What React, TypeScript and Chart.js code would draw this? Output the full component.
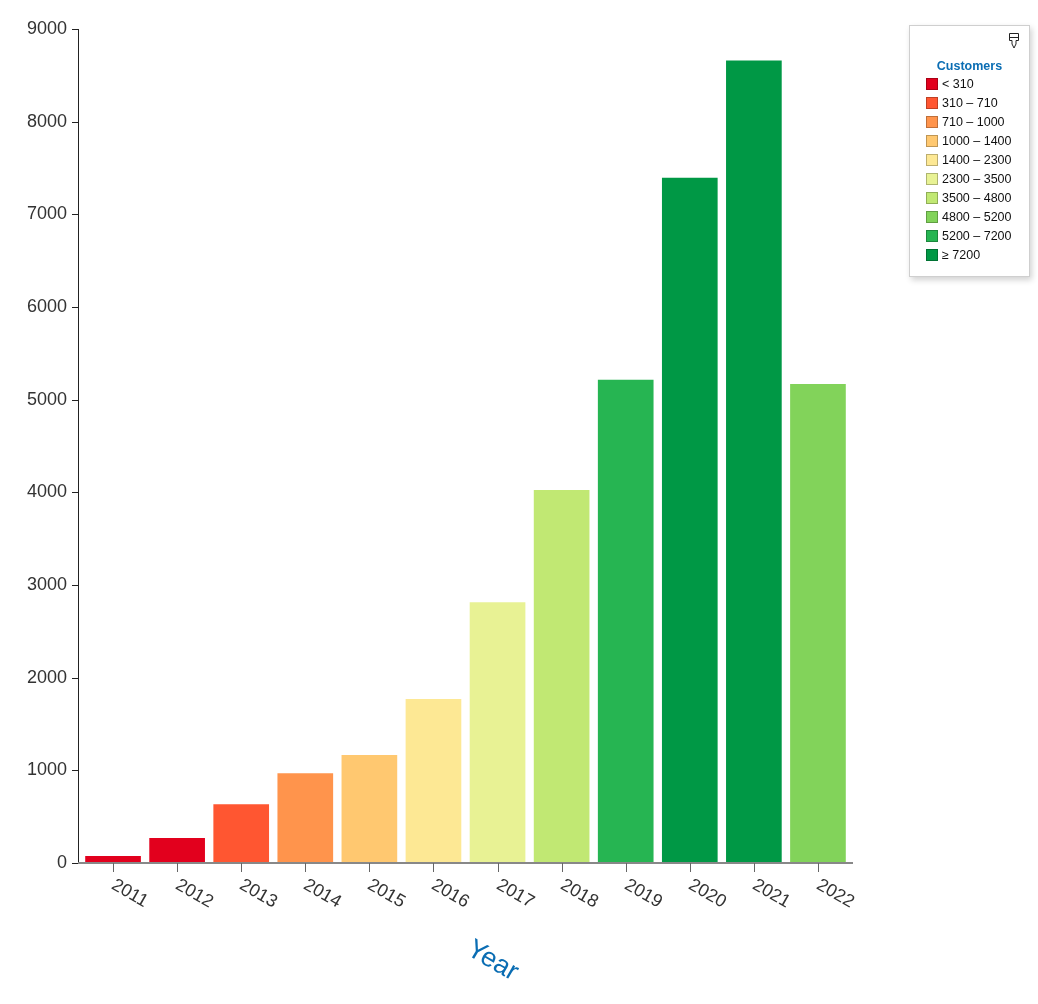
import React, { useEffect, useRef } from "react";
import { Chart, registerables } from "chart.js";

Chart.register(...registerables);

const years = ["2011", "2012", "2013", "2014", "2015", "2016", "2017", "2018", "2019", "2020", "2021", "2022"];
const customers = [85, 280, 645, 980, 1175, 1780, 2825, 4035, 5225, 7405, 8670, 5180];
const binLimits = [310, 710, 1000, 1400, 2300, 3500, 4800, 5200, 7200];
const binLabels = ["< 310", "310 – 710", "710 – 1000", "1000 – 1400", "1400 – 2300", "2300 – 3500", "3500 – 4800", "4800 – 5200", "5200 – 7200", "≥ 7200"];
const binColors = ["#e2001d", "#ff5631", "#ff944c", "#ffc870", "#fde894", "#e8f294", "#c1e873", "#82d35a", "#26b552", "#009845"];
const yTicks = [0, 1000, 2000, 3000, 4000, 5000, 6000, 7000, 8000, 9000];

function colorFor(v: number): string {
  let i = 0;
  while (i < binLimits.length && v >= binLimits[i]) i++;
  return binColors[i];
}

const FONT = "'Liberation Sans', Arial, Helvetica, sans-serif";

const axesPlugin = {
  id: "customAxes",
  afterDraw(chart: any) {
    const ctx = chart.ctx;
    const area = chart.chartArea;
    const xs = chart.scales.x;
    const ys = chart.scales.y;
    ctx.save();
    ctx.strokeStyle = "#222";
    ctx.lineWidth = 1;
    ctx.beginPath();
    ctx.moveTo(area.left - 2.5, area.top);
    ctx.lineTo(area.left - 2.5, area.bottom);
    ctx.stroke();
    yTicks.forEach((t) => {
      const y = Math.round(ys.getPixelForValue(t)) + 0.5;
      ctx.beginPath();
      ctx.moveTo(area.left - 9, y);
      ctx.lineTo(area.left - 2.5, y);
      ctx.stroke();
    });
    ctx.strokeStyle = "#888";
    ctx.lineWidth = 2;
    ctx.beginPath();
    ctx.moveTo(area.left - 3, area.bottom);
    ctx.lineTo(area.right + 3, area.bottom);
    ctx.stroke();
    ctx.lineWidth = 1;
    ctx.font = `18px ${FONT}`;
    ctx.fillStyle = "#333";
    ctx.textAlign = "left";
    ctx.textBaseline = "top";
    years.forEach((lab, i) => {
      const x = Math.round(xs.getPixelForValue(i)) + 0.5;
      ctx.strokeStyle = "#666";
      ctx.beginPath();
      ctx.moveTo(x, area.bottom);
      ctx.lineTo(x, area.bottom + 9);
      ctx.stroke();
      ctx.save();
      ctx.translate(x + 4, area.bottom + 13);
      ctx.rotate((30 * Math.PI) / 180);
      ctx.fillText(lab, 0, 0);
      ctx.restore();
    });
    ctx.save();
    ctx.translate((area.left + area.right) / 2 + 27, area.bottom + 98);
    ctx.rotate((30 * Math.PI) / 180);
    ctx.font = `27px ${FONT}`;
    ctx.fillStyle = "#0a6db3";
    ctx.textAlign = "center";
    ctx.textBaseline = "middle";
    ctx.fillText("Year", 0, 0);
    ctx.restore();
    ctx.restore();
  },
};

export default function App() {
  const ref = useRef<HTMLCanvasElement | null>(null);

  useEffect(() => {
    const prevMargin = document.body.style.margin;
    document.body.style.margin = "0";
    const canvas = ref.current!;
    const chart = new Chart(canvas, {
      type: "bar",
      data: {
        labels: years,
        datasets: [
          {
            label: "Customers",
            data: customers,
            backgroundColor: customers.map(colorFor),
            borderColor: "rgba(255,255,255,0.3)",
            borderWidth: 1,
            barPercentage: 0.9,
            categoryPercentage: 1,
          },
        ],
      },
      options: {
        responsive: false,
        animation: false,
        layout: { padding: { left: 0, top: 29, right: 188, bottom: 0 } },
        plugins: { legend: { display: false }, tooltip: { enabled: false } },
        scales: {
          x: {
            grid: { display: false, drawTicks: false },
            border: { display: false },
            ticks: { display: false },
            afterFit: (s: any) => {
              s.height = 141;
            },
          },
          y: {
            min: 0,
            max: 9000,
            grid: { display: false, drawTicks: false },
            border: { display: false },
            ticks: {
              stepSize: 1000,
              padding: 14,
              color: "#333",
              font: { family: FONT, size: 18 },
              callback: (v: any) => String(v),
            },
            afterFit: (s: any) => {
              s.width = 81;
            },
          },
        },
      },
      plugins: [axesPlugin],
    });
    return () => {
      chart.destroy();
      document.body.style.margin = prevMargin;
    };
  }, []);

  return (
    <div style={{ position: "absolute", left: 0, top: 0, width: 1038, height: 1004, background: "#fff" }}>
      <canvas ref={ref} width={1038} height={1004} style={{ position: "absolute", left: 0, top: 0, width: 1038, height: 1004 }} />
      <div
        style={{
          position: "absolute",
          left: 909,
          top: 25,
          width: 121,
          height: 252,
          border: "1px solid #cfcfcf",
          background: "#fff",
          boxShadow: "2px 3px 6px rgba(0,0,0,0.18)",
          fontFamily: FONT,
          boxSizing: "border-box",
        }}
      >
        <svg width="12" height="16" viewBox="0 0 12 16" style={{ position: "absolute", left: 98, top: 7 }}>
          <path d="M1.5 0.5 H10.5 V7.5 H8 V11 L6 15 L4 11 V7.5 H1.5 Z M1.5 4.5 H10.5" fill="none" stroke="#222" strokeWidth="1" />
        </svg>
        <div
          style={{
            position: "absolute",
            left: 0,
            width: "100%",
            top: 33,
            textAlign: "center",
            fontSize: 12.5,
            fontWeight: "bold",
            color: "#0a6db3",
          }}
        >
          Customers
        </div>
        {binLabels.map((lab, i) => (
          <div key={lab} style={{ position: "absolute", left: 16, top: 51 + i * 19, height: 14, display: "flex", alignItems: "center" }}>
            <span
              style={{
                display: "inline-block",
                width: 12,
                height: 12,
                background: binColors[i],
                border: "1px solid rgba(0,0,0,0.25)",
                boxSizing: "border-box",
                marginRight: 4,
              }}
            />
            <span style={{ fontSize: 12.5, color: "#111" }}>{lab}</span>
          </div>
        ))}
      </div>
    </div>
  );
}
